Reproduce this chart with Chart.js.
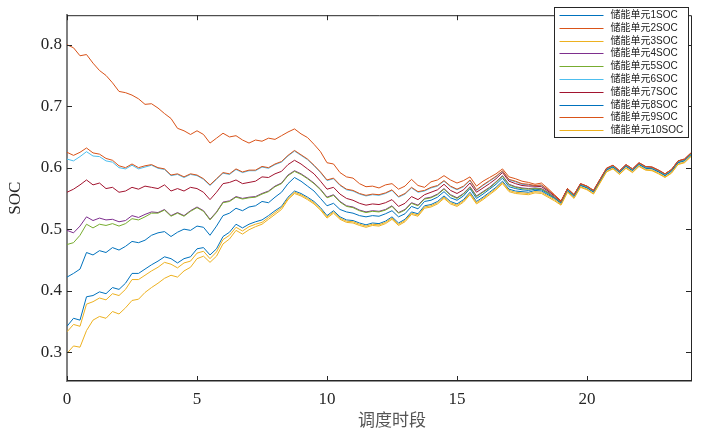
<!DOCTYPE html>
<html>
<head>
<meta charset="utf-8">
<script src="https://cdn.jsdelivr.net/npm/chart.js@4.4.1/dist/chart.umd.min.js"></script>
<style>
  body { margin: 0; background: #fff; }
  canvas { display: block; }
</style>
</head>
<body>
<canvas id="canvas" width="711" height="434"></canvas>
<script>
// 调度时段 (h), one point per quarter hour
const periods = [
  0, 0.25, 0.5, 0.75, 1, 1.25, 1.5, 1.75, 2, 2.25, 2.5, 2.75,
  3, 3.25, 3.5, 3.75, 4, 4.25, 4.5, 4.75, 5, 5.25, 5.5, 5.75,
  6, 6.25, 6.5, 6.75, 7, 7.25, 7.5, 7.75, 8, 8.25, 8.5, 8.75,
  9, 9.25, 9.5, 9.75, 10, 10.25, 10.5, 10.75, 11, 11.25, 11.5, 11.75,
  12, 12.25, 12.5, 12.75, 13, 13.25, 13.5, 13.75, 14, 14.25, 14.5, 14.75,
  15, 15.25, 15.5, 15.75, 16, 16.25, 16.5, 16.75, 17, 17.25, 17.5, 17.75,
  18, 18.25, 18.5, 18.75, 19, 19.25, 19.5, 19.75, 20, 20.25, 20.5, 20.75,
  21, 21.25, 21.5, 21.75, 22, 22.25, 22.5, 22.75, 23, 23.25, 23.5, 23.75, 24
];

const xTicks = [0, 5, 10, 15, 20];
const yTicks = [0.3, 0.4, 0.5, 0.6, 0.7, 0.8];
const xTitle = '调度时段';

const seriesNames = [
  '储能单元1SOC', '储能单元2SOC', '储能单元3SOC', '储能单元4SOC', '储能单元5SOC',
  '储能单元6SOC', '储能单元7SOC', '储能单元8SOC', '储能单元9SOC', '储能单元10SOC'
];
const seriesColors = [
  '#0072BD', '#D95319', '#EDB120', '#7E2F8E', '#77AC30',
  '#4DBEEE', '#A2142F', '#0072BD', '#D95319', '#EDB120'
];

const soc1 = [
  0.422, 0.428, 0.435, 0.462, 0.458, 0.465, 0.462, 0.470, 0.466, 0.472, 0.480, 0.478,
  0.482, 0.490, 0.494, 0.496, 0.488, 0.495, 0.500, 0.498, 0.505, 0.503, 0.490, 0.505,
  0.522, 0.526, 0.534, 0.530, 0.536, 0.538, 0.545, 0.543, 0.552, 0.560, 0.574, 0.584,
  0.578, 0.570, 0.562, 0.550, 0.538, 0.542, 0.532, 0.528, 0.526, 0.522, 0.520, 0.522,
  0.521, 0.525, 0.530, 0.520, 0.525, 0.537, 0.533, 0.545, 0.547, 0.552, 0.561, 0.551,
  0.547, 0.554, 0.566, 0.550, 0.557, 0.565, 0.573, 0.583, 0.569, 0.566, 0.564, 0.563,
  0.565, 0.564, 0.558, 0.551, 0.543, 0.564, 0.554, 0.572, 0.568, 0.561, 0.579, 0.597,
  0.602, 0.593, 0.603, 0.596, 0.606, 0.600, 0.599, 0.594, 0.588, 0.595, 0.609, 0.612, 0.622
];
const soc2 = [
  0.800, 0.795, 0.782, 0.784, 0.770, 0.758, 0.750, 0.738, 0.724, 0.722, 0.718, 0.712,
  0.703, 0.704, 0.697, 0.688, 0.680, 0.664, 0.660, 0.654, 0.660, 0.654, 0.640, 0.648,
  0.656, 0.650, 0.652, 0.645, 0.640, 0.645, 0.643, 0.648, 0.646, 0.652, 0.658, 0.663,
  0.655, 0.649, 0.638, 0.626, 0.608, 0.606, 0.592, 0.585, 0.583, 0.574, 0.569, 0.570,
  0.567, 0.572, 0.574, 0.565, 0.570, 0.581, 0.571, 0.568, 0.577, 0.580, 0.587, 0.580,
  0.575, 0.579, 0.585, 0.570, 0.578, 0.584, 0.590, 0.598, 0.585, 0.582, 0.578, 0.576,
  0.573, 0.575, 0.566, 0.556, 0.546, 0.566, 0.556, 0.573, 0.569, 0.562, 0.580, 0.598,
  0.603, 0.594, 0.604, 0.597, 0.607, 0.601, 0.600, 0.595, 0.589, 0.596, 0.610, 0.613, 0.623
];
const soc3 = [
  0.298, 0.310, 0.308, 0.335, 0.352, 0.358, 0.355, 0.366, 0.362, 0.372, 0.384, 0.386,
  0.397, 0.405, 0.412, 0.420, 0.425, 0.422, 0.432, 0.438, 0.452, 0.456, 0.446, 0.456,
  0.476, 0.484, 0.498, 0.492, 0.499, 0.504, 0.508, 0.516, 0.524, 0.532, 0.548, 0.558,
  0.554, 0.548, 0.541, 0.531, 0.518, 0.526, 0.516, 0.511, 0.510, 0.506, 0.503, 0.506,
  0.505, 0.509, 0.516, 0.506, 0.512, 0.524, 0.521, 0.534, 0.536, 0.541, 0.550, 0.541,
  0.537, 0.544, 0.556, 0.541, 0.548, 0.556, 0.564, 0.574, 0.561, 0.558, 0.557, 0.556,
  0.559, 0.558, 0.552, 0.546, 0.539, 0.560, 0.550, 0.568, 0.564, 0.557, 0.575, 0.593,
  0.598, 0.589, 0.599, 0.592, 0.602, 0.596, 0.595, 0.590, 0.584, 0.591, 0.605, 0.608, 0.618
];
const soc4 = [
  0.498, 0.494, 0.505, 0.520, 0.514, 0.518, 0.515, 0.516, 0.512, 0.514, 0.522, 0.519,
  0.524, 0.528, 0.527, 0.532, 0.522, 0.527, 0.522, 0.530, 0.536, 0.530, 0.516, 0.528,
  0.544, 0.546, 0.553, 0.550, 0.552, 0.553, 0.558, 0.562, 0.570, 0.575, 0.588, 0.595,
  0.590, 0.583, 0.575, 0.565, 0.552, 0.556, 0.545, 0.538, 0.536, 0.531, 0.528, 0.530,
  0.529, 0.532, 0.538, 0.527, 0.532, 0.543, 0.539, 0.550, 0.552, 0.557, 0.566, 0.556,
  0.551, 0.558, 0.569, 0.554, 0.561, 0.568, 0.577, 0.587, 0.573, 0.569, 0.567, 0.566,
  0.567, 0.566, 0.560, 0.552, 0.544, 0.565, 0.555, 0.573, 0.569, 0.562, 0.580, 0.598,
  0.603, 0.594, 0.604, 0.597, 0.607, 0.601, 0.600, 0.595, 0.589, 0.596, 0.610, 0.613, 0.623
];
const soc5 = [
  0.475, 0.478, 0.490, 0.508, 0.502, 0.508, 0.506, 0.509, 0.505, 0.509, 0.517, 0.515,
  0.520, 0.526, 0.526, 0.531, 0.521, 0.526, 0.521, 0.529, 0.535, 0.529, 0.515, 0.527,
  0.543, 0.545, 0.552, 0.549, 0.551, 0.552, 0.557, 0.561, 0.569, 0.574, 0.587, 0.594,
  0.589, 0.582, 0.574, 0.564, 0.551, 0.555, 0.544, 0.537, 0.535, 0.530, 0.527, 0.529,
  0.528, 0.531, 0.537, 0.526, 0.531, 0.542, 0.538, 0.549, 0.551, 0.556, 0.565, 0.555,
  0.550, 0.557, 0.568, 0.553, 0.560, 0.567, 0.576, 0.586, 0.572, 0.568, 0.566, 0.565,
  0.566, 0.565, 0.559, 0.551, 0.543, 0.564, 0.554, 0.572, 0.568, 0.561, 0.579, 0.597,
  0.602, 0.593, 0.603, 0.596, 0.606, 0.600, 0.599, 0.594, 0.588, 0.595, 0.609, 0.612, 0.622
];
const soc6 = [
  0.614, 0.611, 0.618, 0.626, 0.619, 0.618, 0.611, 0.609, 0.600, 0.598, 0.604, 0.598,
  0.601, 0.604, 0.599, 0.597, 0.587, 0.589, 0.584, 0.589, 0.587, 0.581, 0.571, 0.581,
  0.591, 0.589, 0.597, 0.592, 0.595, 0.595, 0.601, 0.599, 0.605, 0.609, 0.619, 0.627,
  0.620, 0.613, 0.603, 0.592, 0.579, 0.582, 0.571, 0.564, 0.562, 0.557, 0.554, 0.556,
  0.555, 0.558, 0.563, 0.552, 0.557, 0.567, 0.560, 0.562, 0.567, 0.570, 0.578, 0.569,
  0.564, 0.569, 0.579, 0.563, 0.571, 0.578, 0.585, 0.594, 0.580, 0.577, 0.573, 0.572,
  0.570, 0.571, 0.563, 0.554, 0.544, 0.565, 0.555, 0.573, 0.569, 0.562, 0.580, 0.598,
  0.603, 0.594, 0.604, 0.597, 0.607, 0.601, 0.600, 0.595, 0.589, 0.596, 0.610, 0.613, 0.623
];
const soc7 = [
  0.560, 0.565, 0.572, 0.580, 0.572, 0.575, 0.566, 0.568, 0.560, 0.562, 0.568, 0.565,
  0.570, 0.568, 0.566, 0.572, 0.562, 0.566, 0.562, 0.568, 0.566, 0.560, 0.548, 0.560,
  0.574, 0.576, 0.580, 0.574, 0.576, 0.578, 0.585, 0.584, 0.590, 0.594, 0.605, 0.612,
  0.606, 0.598, 0.590, 0.578, 0.565, 0.568, 0.557, 0.550, 0.547, 0.542, 0.539, 0.541,
  0.540, 0.543, 0.548, 0.537, 0.542, 0.553, 0.548, 0.556, 0.560, 0.564, 0.573, 0.563,
  0.558, 0.564, 0.575, 0.560, 0.567, 0.574, 0.582, 0.592, 0.578, 0.574, 0.571, 0.570,
  0.570, 0.569, 0.562, 0.554, 0.545, 0.566, 0.556, 0.574, 0.570, 0.563, 0.581, 0.599,
  0.604, 0.595, 0.605, 0.598, 0.608, 0.602, 0.601, 0.596, 0.590, 0.597, 0.611, 0.614, 0.624
];
const soc8 = [
  0.342, 0.355, 0.352, 0.390, 0.392, 0.398, 0.395, 0.405, 0.402, 0.412, 0.428, 0.428,
  0.435, 0.442, 0.448, 0.455, 0.452, 0.445, 0.452, 0.455, 0.468, 0.470, 0.458, 0.468,
  0.488, 0.495, 0.508, 0.502, 0.508, 0.512, 0.515, 0.522, 0.530, 0.537, 0.552, 0.562,
  0.558, 0.552, 0.545, 0.535, 0.522, 0.530, 0.520, 0.515, 0.514, 0.510, 0.507, 0.510,
  0.509, 0.513, 0.520, 0.510, 0.516, 0.528, 0.525, 0.538, 0.540, 0.545, 0.554, 0.545,
  0.541, 0.548, 0.560, 0.545, 0.552, 0.560, 0.568, 0.578, 0.565, 0.562, 0.561, 0.560,
  0.563, 0.562, 0.556, 0.550, 0.542, 0.563, 0.553, 0.571, 0.567, 0.560, 0.578, 0.596,
  0.601, 0.592, 0.602, 0.595, 0.605, 0.599, 0.598, 0.593, 0.587, 0.594, 0.608, 0.611, 0.621
];
const soc9 = [
  0.625, 0.620, 0.625, 0.632, 0.624, 0.622, 0.615, 0.612, 0.603, 0.600, 0.606, 0.600,
  0.603, 0.605, 0.600, 0.598, 0.588, 0.590, 0.585, 0.590, 0.588, 0.582, 0.572, 0.582,
  0.592, 0.590, 0.598, 0.593, 0.596, 0.596, 0.602, 0.600, 0.606, 0.610, 0.620, 0.628,
  0.621, 0.614, 0.604, 0.593, 0.580, 0.583, 0.572, 0.565, 0.563, 0.558, 0.555, 0.557,
  0.556, 0.559, 0.564, 0.553, 0.558, 0.568, 0.561, 0.563, 0.568, 0.571, 0.579, 0.570,
  0.565, 0.570, 0.580, 0.564, 0.572, 0.579, 0.586, 0.595, 0.581, 0.578, 0.574, 0.573,
  0.571, 0.572, 0.564, 0.555, 0.545, 0.566, 0.556, 0.574, 0.570, 0.563, 0.581, 0.599,
  0.604, 0.595, 0.605, 0.598, 0.608, 0.602, 0.601, 0.596, 0.590, 0.597, 0.611, 0.614, 0.624
];
const soc10 = [
  0.333, 0.345, 0.342, 0.378, 0.382, 0.388, 0.385, 0.395, 0.392, 0.402, 0.418, 0.418,
  0.425, 0.432, 0.438, 0.446, 0.443, 0.437, 0.445, 0.448, 0.461, 0.464, 0.452, 0.463,
  0.483, 0.490, 0.503, 0.497, 0.504, 0.508, 0.511, 0.519, 0.527, 0.535, 0.550, 0.560,
  0.556, 0.550, 0.543, 0.533, 0.520, 0.528, 0.518, 0.513, 0.512, 0.508, 0.505, 0.508,
  0.507, 0.511, 0.518, 0.508, 0.514, 0.526, 0.523, 0.536, 0.538, 0.543, 0.552, 0.543,
  0.539, 0.546, 0.558, 0.543, 0.550, 0.558, 0.566, 0.576, 0.563, 0.560, 0.559, 0.558,
  0.561, 0.560, 0.554, 0.548, 0.540, 0.561, 0.551, 0.569, 0.565, 0.558, 0.576, 0.594,
  0.599, 0.590, 0.600, 0.593, 0.603, 0.597, 0.596, 0.591, 0.585, 0.592, 0.606, 0.609, 0.619
];

const allSeries = [soc1, soc2, soc3, soc4, soc5, soc6, soc7, soc8, soc9, soc10];

const serif = '"Liberation Serif", "Times New Roman", serif';
const axisColor = '#262626';

// inward tick marks + top/right box lines, like the matlab axes
const axesBox = {
  id: 'axesBox',
  afterDraw(chart) {
    const ctx = chart.ctx;
    const a = chart.chartArea;
    const xs = chart.scales.x, ys = chart.scales.y;
    ctx.save();
    ctx.strokeStyle = axisColor;
    ctx.lineWidth = 1;
    ctx.beginPath();
    ctx.moveTo(a.left, a.top + 0.5);
    ctx.lineTo(a.right + 0.5, a.top + 0.5);
    ctx.lineTo(a.right + 0.5, a.bottom);
    ctx.stroke();
    ctx.beginPath();
    xs.ticks.forEach(t => {
      const px = Math.round(xs.getPixelForValue(t.value)) + 0.5;
      ctx.moveTo(px, a.bottom);
      ctx.lineTo(px, a.bottom - 5);
      ctx.moveTo(px, a.top);
      ctx.lineTo(px, a.top + 5);
    });
    ys.ticks.forEach(t => {
      const py = Math.round(ys.getPixelForValue(t.value)) + 0.5;
      ctx.moveTo(a.left, py);
      ctx.lineTo(a.left + 5, py);
      ctx.moveTo(a.right, py);
      ctx.lineTo(a.right - 5, py);
    });
    ctx.stroke();

    // x axis title sits a bit right of centre in the original figure
    ctx.font = '17px "Noto Sans CJK SC", sans-serif';
    ctx.fillStyle = '#555';
    ctx.textAlign = 'center';
    ctx.textBaseline = 'middle';
    ctx.fillText(xTitle, (a.left + a.right) / 2 + 13, 420);
    ctx.restore();
  }
};

// legend box in the upper right corner
const legendBox = {
  id: 'legendBox',
  afterDraw(chart) {
    const ctx = chart.ctx;
    const x0 = 554.5, y0 = 7.5, w = 134, h = 130;
    ctx.save();
    ctx.fillStyle = '#fff';
    ctx.fillRect(x0, y0, w, h);
    ctx.strokeStyle = axisColor;
    ctx.lineWidth = 1;
    ctx.strokeRect(x0, y0, w, h);
    ctx.font = '10px "Liberation Sans", "Noto Sans CJK SC", sans-serif';
    ctx.textBaseline = 'middle';
    ctx.fillStyle = '#222';
    chart.data.datasets.forEach((ds, i) => {
      const y = Math.round(y0 + 7.5 + i * 12.8) + 0.5;
      ctx.strokeStyle = ds.borderColor;
      ctx.beginPath();
      ctx.moveTo(x0 + 5, y);
      ctx.lineTo(x0 + 49, y);
      ctx.stroke();
      ctx.fillText(ds.label, x0 + 56, y);
    });
    ctx.restore();
  }
};

const canvas = document.getElementById('canvas');
const chart = new Chart(canvas, {
  type: 'line',
  data: {
    datasets: allSeries.map((vals, i) => ({
      label: seriesNames[i],
      data: periods.map((t, k) => ({ x: t, y: vals[k] })),
      borderColor: seriesColors[i],
      borderWidth: 1,
      pointRadius: 0,
      tension: 0,
      fill: false,
      order: allSeries.length - i
    }))
  },
  options: {
    responsive: false,
    animation: false,
    layout: { padding: { top: 7, right: 20, left: 0, bottom: 0 } },
    plugins: {
      legend: { display: false },
      tooltip: { enabled: false }
    },
    scales: {
      x: {
        type: 'linear',
        min: 0,
        max: 24,
        afterBuildTicks: s => { s.ticks = xTicks.map(v => ({ value: v })); },
        afterFit: s => { s.height = 53; },
        grid: { display: false, drawTicks: false },
        border: { display: true, color: axisColor, width: 1.5 },
        ticks: {
          font: { family: serif, size: 17 },
          color: axisColor,
          padding: 8,
          maxRotation: 0
        },
        title: { display: false }
      },
      y: {
        min: 0.253,
        max: 0.848,
        afterBuildTicks: s => { s.ticks = yTicks.map(v => ({ value: v })); },
        afterFit: s => { s.width = 67; },
        grid: { display: false, drawTicks: false },
        border: { display: true, color: '#808080', width: 2 },
        ticks: {
          font: { family: serif, size: 17 },
          color: axisColor,
          padding: 5,
          callback: v => v.toFixed(1)
        },
        title: {
          display: true,
          text: 'SOC',
          font: { family: serif, size: 17 },
          color: axisColor,
          padding: { top: 5, bottom: 0 }
        }
      }
    }
  },
  plugins: [axesBox, legendBox]
});
</script>
</body>
</html>
